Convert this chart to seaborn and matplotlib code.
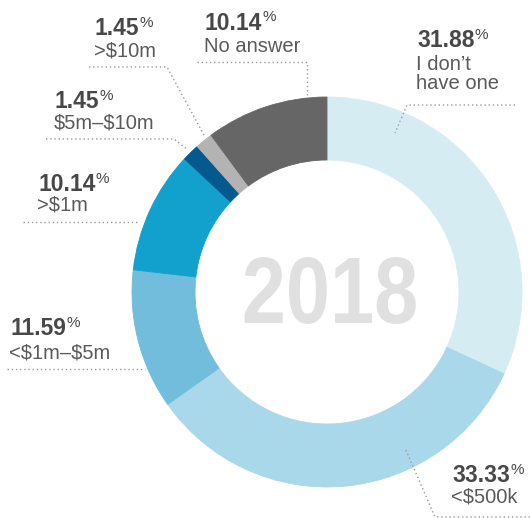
import matplotlib
matplotlib.use("Agg")
import matplotlib.pyplot as plt
import matplotlib.patheffects as pe
from matplotlib.transforms import Affine2D
import seaborn as sns

# Survey breakdown for 2018, clockwise from 12 o'clock
categories = ["I don\u2019t\nhave one", "<$500k", "<$1m\u2013$5m", ">$1m",
              "$5m\u2013$10m", ">$10m", "No answer"]
shares = [31.88, 33.33, 11.59, 10.14, 1.45, 1.45, 10.14]
value_labels = ["31.88", "33.33", "11.59", "10.14", "1.45", "1.45", "10.14"]
colors = ["#d6ecf3", "#a9d8ea", "#72bcdc", "#12a0cd", "#045a8f", "#b3b3b3", "#666666"]
year_label = "2018"

sns.set_theme(style="white")
plt.rcParams["font.family"] = ["Liberation Sans", "DejaVu Sans"]

W, H = 530, 518
fig = plt.figure(figsize=(W / 100, H / 100), dpi=100)
ax = fig.add_axes([0, 0, 1, 1])

# work in pixel-like units, y measured downward from the top
cx, cy = 327, 292
R_OUT, R_IN = 195, 132

wedges, _ = ax.pie(shares, colors=colors, startangle=90, counterclock=False,
                   radius=R_OUT, center=(cx, H - cy),
                   wedgeprops=dict(width=R_OUT - R_IN, linewidth=0.6))
for w in wedges:
    w.set_edgecolor(w.get_facecolor())

ax.set_xlim(0, W)
ax.set_ylim(0, H)
ax.set_aspect("equal")
ax.axis("off")


class Condense(pe.AbstractPathEffect):
    """Narrow the glyph outlines horizontally about a display-space x."""

    def __init__(self, sx, x0):
        super().__init__()
        self.sx, self.x0 = sx, x0

    def draw_path(self, renderer, gc, tpath, affine, rgbFace=None):
        squeeze = Affine2D().translate(-self.x0, 0).scale(self.sx, 1).translate(self.x0, 0)
        renderer.draw_path(gc, tpath, affine + squeeze, rgbFace)


year_x = 330
year = ax.text(year_x, H - 323, year_label, ha="center", va="baseline", fontsize=68,
               fontweight="bold", color="#e0e0e0")
year.set_path_effects([Condense(0.84, ax.transData.transform((year_x, 0))[0])])

VAL_C, LAB_C, LINE_C = "#484848", "#5a5a5a", "#9a9a9a"


def label(x, y_val, y_lab, value, text, ls=1.0):
    t = ax.text(x, H - y_val, value, ha="left", va="baseline", fontsize=16.5,
                fontweight="bold", color=VAL_C, parse_math=False)
    ax.annotate("%", xy=(1, 1), xycoords=t, xytext=(0.3, 1.0),
                textcoords="offset points", ha="left", va="top",
                fontsize=11, color=VAL_C)
    ax.text(x - 1, H - y_lab, text, ha="left", va="baseline", fontsize=14.5,
            color=LAB_C, linespacing=ls, parse_math=False)


def leader(xs, ys):
    ax.plot(xs, [H - y for y in ys], color=LINE_C, lw=1.0,
            linestyle=(0, (1, 2)), solid_capstyle="butt")


# I don't have one (two-line label, baseline of the last line)
label(417, 47, 89, value_labels[0], categories[0])
leader([515, 407, 395], [105, 105, 133])

# <$500k
label(452, 482, 503, value_labels[1], categories[1])
leader([530, 435, 405], [517, 517, 448])

# <$1m–$5m
label(10, 335, 358, value_labels[2], categories[2])
leader([7, 145], [369, 369])

# >$1m
label(38, 191, 211, value_labels[3], categories[3])
leader([23, 139], [222, 222])

# $5m–$10m
label(55, 108, 128, value_labels[4], categories[4])
leader([46, 174, 188], [139, 139, 150])

# >$10m
label(95, 35, 57, value_labels[5], categories[5])
leader([89, 167, 205], [67, 67, 137])

# No answer
label(205, 29.5, 52, value_labels[6], categories[6])
leader([197, 307, 307], [62, 62, 95])

fig.savefig("out.png", dpi=100, facecolor="white")
